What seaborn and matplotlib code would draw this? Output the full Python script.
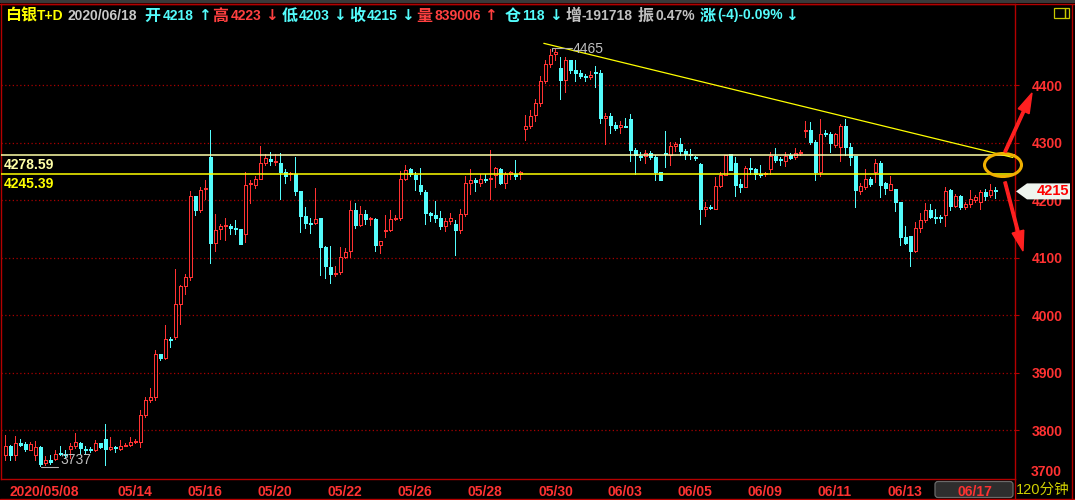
import numpy as np
import pandas as pd
import matplotlib
matplotlib.use("Agg")
import matplotlib.pyplot as plt
import matplotlib.transforms as mtransforms
from matplotlib.patches import Ellipse, Polygon, FancyArrow, FancyBboxPatch, Rectangle
import seaborn as sns

# ---------------- data (120-minute candles, 白银T+D) ----------------
opens = [3757, 3772, 3757, 3778, 3776, 3766, 3757, 3770, 3743, 3747, 3750, 3760, 3759, 3767, 3773, 3777, 3767, 3767, 3766, 3777,
         3784, 3767, 3770, 3767, 3773, 3774, 3779, 3780, 3826, 3853, 3858, 3932, 3925, 3959, 3962, 4020, 4051, 4066, 4207, 4183,
         4219, 4275, 4125, 4149, 4155, 4155, 4151, 4149, 4141, 4227, 4226, 4236, 4264, 4271, 4266, 4264, 4248, 4245, 4246, 4216,
         4172, 4160, 4160, 4169, 4119, 4083, 4071, 4075, 4101, 4112, 4182, 4156, 4175, 4167, 4167, 4122, 4146, 4148, 4167, 4169,
         4236, 4254, 4243, 4226, 4214, 4178, 4174, 4169, 4155, 4163, 4158, 4148, 4175, 4230, 4235, 4229, 4236, 4236, 4243, 4254,
         4230, 4245, 4245, 4245, 4324, 4329, 4347, 4369, 4407, 4436, 4454, 4430, 4409, 4443, 4426, 4421, 4416, 4414, 4423, 4421,
         4343, 4346, 4330, 4327, 4329, 4341, 4287, 4277, 4276, 4281, 4275, 4248, 4282, 4278, 4294, 4297, 4285, 4280, 4275, 4263,
         4184, 4188, 4185, 4225, 4244, 4280, 4265, 4228, 4223, 4256, 4254, 4246, 4245, 4254, 4277, 4271, 4268, 4278, 4275, 4281,
         4320, 4322, 4301, 4249, 4316, 4315, 4296, 4293, 4328, 4293, 4276, 4216, 4222, 4237, 4249, 4265, 4229, 4218, 4220, 4197,
         4135, 4137, 4112, 4151, 4165, 4183, 4171, 4170, 4174, 4217, 4190, 4207, 4187, 4193, 4200, 4197, 4214, 4209, 4218]
highs = [3791, 3774, 3789, 3784, 3780, 3779, 3781, 3773, 3755, 3756, 3765, 3772, 3765, 3777, 3795, 3780, 3772, 3770, 3783, 3777,
         3810, 3788, 3773, 3783, 3778, 3788, 3785, 3834, 3858, 3873, 3939, 3932, 3983, 3961, 4080, 4052, 4071, 4216, 4207, 4223,
         4235, 4322, 4175, 4158, 4168, 4158, 4165, 4149, 4249, 4235, 4242, 4294, 4280, 4283, 4280, 4281, 4254, 4249, 4275, 4216,
         4187, 4169, 4221, 4169, 4120, 4120, 4086, 4118, 4116, 4199, 4195, 4189, 4182, 4171, 4169, 4128, 4174, 4182, 4174, 4250,
         4261, 4256, 4248, 4256, 4217, 4180, 4198, 4181, 4168, 4177, 4165, 4184, 4242, 4254, 4239, 4245, 4246, 4287, 4258, 4256,
         4249, 4251, 4269, 4251, 4348, 4356, 4376, 4416, 4443, 4462, 4465, 4448, 4448, 4443, 4443, 4426, 4419, 4424, 4433, 4426,
         4352, 4352, 4335, 4337, 4342, 4349, 4290, 4283, 4287, 4285, 4278, 4248, 4320, 4301, 4301, 4308, 4289, 4289, 4277, 4265,
         4197, 4192, 4240, 4249, 4279, 4280, 4275, 4236, 4259, 4273, 4256, 4261, 4249, 4284, 4291, 4275, 4284, 4281, 4291, 4287,
         4338, 4335, 4304, 4341, 4322, 4319, 4317, 4332, 4341, 4300, 4276, 4229, 4254, 4240, 4272, 4267, 4232, 4242, 4220, 4197,
         4154, 4137, 4162, 4177, 4194, 4193, 4185, 4174, 4222, 4220, 4210, 4209, 4197, 4217, 4209, 4218, 4220, 4228, 4223]
lows = [3747, 3748, 3747, 3772, 3764, 3765, 3748, 3737, 3740, 3741, 3748, 3756, 3752, 3751, 3768, 3759, 3758, 3761, 3763, 3768,
        3740, 3765, 3762, 3765, 3772, 3772, 3777, 3771, 3822, 3848, 3853, 3922, 3923, 3945, 3959, 3984, 4037, 4061, 4174, 4180,
        4202, 4091, 4112, 4133, 4130, 4141, 4141, 4124, 4127, 4195, 4221, 4236, 4261, 4261, 4261, 4202, 4230, 4235, 4209, 4145,
        4152, 4143, 4158, 4069, 4064, 4056, 4068, 4072, 4100, 4101, 4152, 4155, 4159, 4157, 4112, 4108, 4135, 4146, 4165, 4165,
        4235, 4242, 4217, 4210, 4158, 4163, 4162, 4149, 4146, 4159, 4104, 4142, 4173, 4210, 4216, 4225, 4232, 4202, 4223, 4228,
        4221, 4236, 4236, 4236, 4304, 4325, 4338, 4364, 4403, 4431, 4443, 4376, 4388, 4421, 4407, 4413, 4407, 4410, 4397, 4334,
        4298, 4316, 4321, 4317, 4327, 4267, 4245, 4269, 4264, 4271, 4235, 4235, 4258, 4261, 4286, 4278, 4271, 4271, 4269, 4158,
        4173, 4184, 4184, 4222, 4244, 4252, 4207, 4214, 4222, 4245, 4236, 4240, 4242, 4245, 4266, 4261, 4260, 4271, 4271, 4278,
        4310, 4298, 4235, 4241, 4311, 4284, 4293, 4268, 4278, 4261, 4188, 4211, 4219, 4224, 4232, 4206, 4210, 4217, 4181, 4122,
        4123, 4086, 4110, 4145, 4162, 4168, 4160, 4162, 4154, 4183, 4187, 4184, 4184, 4187, 4197, 4185, 4200, 4206, 4203]
closes = [3772, 3757, 3777, 3774, 3767, 3776, 3770, 3741, 3748, 3745, 3759, 3759, 3757, 3772, 3779, 3769, 3766, 3765, 3777, 3770,
          3767, 3770, 3769, 3773, 3774, 3780, 3780, 3826, 3852, 3858, 3932, 3925, 3958, 3957, 4019, 4051, 4066, 4207, 4183, 4217,
          4221, 4125, 4148, 4155, 4156, 4152, 4149, 4124, 4226, 4229, 4236, 4265, 4273, 4268, 4268, 4249, 4242, 4247, 4216, 4172,
          4160, 4159, 4167, 4119, 4086, 4071, 4073, 4101, 4109, 4182, 4157, 4175, 4167, 4169, 4122, 4128, 4148, 4167, 4169, 4236,
          4253, 4245, 4236, 4216, 4178, 4174, 4168, 4155, 4163, 4169, 4148, 4175, 4230, 4235, 4231, 4236, 4235, 4239, 4256, 4230,
          4245, 4248, 4242, 4248, 4329, 4346, 4368, 4407, 4436, 4452, 4458, 4409, 4443, 4426, 4421, 4416, 4414, 4418, 4421, 4343,
          4346, 4330, 4326, 4330, 4327, 4287, 4278, 4275, 4281, 4275, 4248, 4235, 4280, 4294, 4298, 4286, 4280, 4278, 4273, 4184,
          4188, 4186, 4225, 4243, 4279, 4252, 4226, 4222, 4256, 4254, 4245, 4244, 4247, 4277, 4269, 4269, 4277, 4273, 4281, 4283,
          4322, 4301, 4249, 4315, 4314, 4299, 4315, 4328, 4293, 4275, 4217, 4224, 4237, 4228, 4264, 4226, 4221, 4228, 4197, 4135,
          4126, 4112, 4151, 4165, 4183, 4171, 4169, 4168, 4216, 4190, 4207, 4188, 4193, 4201, 4206, 4214, 4207, 4217, 4215]

y_ticks = [3800, 3900, 4000, 4100, 4200, 4300, 4400]
x_tick_pos = [0.3, 22, 36, 50, 64, 78, 92, 106.2, 120, 134, 148, 162, 176, 190]
x_tick_labels = ["2020/05/08", "05/14", "05/16", "05/20", "05/22", "05/26", "05/28",
                 "05/30", "06/03", "06/05", "06/09", "06/11", "06/13", "06/17"]
x_minor_pos = [3.1, 8.1, 15, 29.1, 43, 57.1, 72.9, 85, 99.1, 108.1, 143.1, 169.1, 183.2, 197.2]
support_levels = [4278.59, 4245.39]
trend_x = [107.7, 201.5]
trend_y = [4472.5, 4274.0]
high_value, high_idx = 4465, 110
low_value, low_idx = 3737, 7

header_items = [
    ("白银", "#ffff00", "cjk"), ("T+D", "#ffff00", "num"),
    ("2020/06/18", "#c8c8c8", "num"),
    ("开", "#54fcfc", "cjk"), ("4218", "#54fcfc", "num"), ("↑", "#54fcfc", "arr"),
    ("高", "#ff4040", "cjk"), ("4223", "#ff4040", "num"), ("↓", "#ff4040", "arr"),
    ("低", "#54fcfc", "cjk"), ("4203", "#54fcfc", "num"), ("↓", "#54fcfc", "arr"),
    ("收", "#54fcfc", "cjk"), ("4215", "#54fcfc", "num"), ("↓", "#54fcfc", "arr"),
    ("量", "#ff4040", "cjk"), ("839006", "#ff4040", "num"), ("↑", "#ff4040", "arr"),
    ("仓", "#54fcfc", "cjk"), ("118", "#54fcfc", "num"), ("↓", "#54fcfc", "arr"),
    ("增", "#c0c0c0", "cjk"), ("-191718", "#c0c0c0", "num"),
    ("振", "#c0c0c0", "cjk"), ("0.47%", "#c0c0c0", "num"),
    ("涨", "#54fcfc", "cjk"), ("(-4)-0.09%", "#54fcfc", "num"), ("↓", "#54fcfc", "arr"),
]
header_x = [5, 37, 67, 144, 162.5, 198, 212.5, 230.5, 265, 281.5, 299, 333, 349.5, 366.7, 401,
            416.7, 434.6, 484.5, 504.5, 522, 549, 565.6, 581.6, 638, 655, 700, 717.4, 785]

# ---------------- style ----------------
sns.set_theme(style="dark", rc={
    "axes.facecolor": "black", "figure.facecolor": "black",
    "axes.grid": False, "axes.edgecolor": "#b40000",
})
plt.rcParams["font.family"] = ["Liberation Sans", "Noto Sans CJK SC", "DejaVu Sans"]

RED = "#ff3232"
CYAN = "#54fcfc"
FRAME = "#b40000"
W, H = 1075, 500
PX = 0.72  # one pixel in points

fig = plt.figure(figsize=(W / 100, H / 100), dpi=100)
fig.patch.set_facecolor("black")


def px_rect(l, t, r, b):
    return [l / W, 1 - b / H, (r - l) / W, (b - t) / H]


ax = fig.add_axes(px_rect(1, 4, 1015, 479))
ax.set_facecolor("black")
ax.set_xlim(-0.86, 201.94)
ax.set_ylim(3714.8, 4540.9)
for s in ax.spines.values():
    s.set_color(FRAME)
    s.set_linewidth(1.0)

df = pd.DataFrame({"o": opens, "h": highs, "l": lows, "c": closes})
df["idx"] = np.arange(len(df))
up = df["c"] > df["o"]
dn = ~up

# grid
for yv in y_ticks:
    ax.axhline(yv, color="#a80000", lw=0.9, ls=(0, (1, 2)), zorder=1)

# wicks
ax.vlines(df.loc[up, "idx"], df.loc[up, "l"], df.loc[up, "h"], colors=RED, lw=PX, zorder=2, antialiased=False)
ax.vlines(df.loc[dn, "idx"], df.loc[dn, "l"], df.loc[dn, "h"], colors=CYAN, lw=PX, zorder=2, antialiased=False)
# bodies: hollow red (up), filled cyan (down)
ax.bar(df.loc[up, "idx"], (df.loc[up, "c"] - df.loc[up, "o"]).clip(lower=1.5), bottom=df.loc[up, "o"],
       width=0.66, facecolor="black", edgecolor=RED, linewidth=PX, zorder=3, antialiased=False)
ax.bar(df.loc[dn, "idx"], (df.loc[dn, "o"] - df.loc[dn, "c"]).clip(lower=1.5), bottom=df.loc[dn, "c"],
       width=0.66, facecolor=CYAN, edgecolor=CYAN, linewidth=PX, zorder=3, antialiased=False)

# support / resistance lines
lvl_colors = ["#ffffa8", "#ffff00"]
btr = mtransforms.blended_transform_factory(ax.transAxes, ax.transData)
for lv, col in zip(support_levels, lvl_colors):
    ax.axhline(lv, color=col, lw=1.1, zorder=4)
    ax.annotate(f"{lv:.2f}", xy=(0, lv), xycoords=btr, xytext=(3, -3.5), textcoords="offset pixels",
                ha="left", va="top", color=col, fontsize=10, fontweight="bold", zorder=5)

# trend line
ax.plot(trend_x, trend_y, color="#ffff00", lw=0.9, zorder=4, clip_on=False)

# high / low markers
ax.plot([high_idx - 0.7, high_idx - 0.7, high_idx + 3.3], [high_value - 5, high_value - 1, high_value - 1],
        color="#b0b0b0", lw=0.8, zorder=4)
ax.text(high_idx + 3.5, high_value - 2, f"{high_value}", color="#c0c0c0", fontsize=10,
        ha="left", va="center", zorder=5)
ax.plot([low_idx + 0.1, low_idx + 3.5], [low_value - 2, low_value - 2], color="#b0b0b0", lw=0.8, zorder=4)
ax.text(low_idx + 4.1, low_value + 4, f"{low_value}", color="#c0c0c0", fontsize=10,
        ha="left", va="baseline", zorder=5)

# axes ticks
ax.yaxis.tick_right()
ax.set_yticks(y_ticks)
ax.set_yticklabels([str(v) for v in y_ticks])
ax.tick_params(axis="y", colors=RED, labelsize=10, length=3, width=0.8, pad=9, direction="out")
for lab in ax.get_yticklabels():
    lab.set_fontweight("bold")
ax.tick_params(axis="y", color=FRAME)

ax.set_xticks(x_tick_pos)
ax.set_xticklabels(x_tick_labels)
ax.set_xticks(x_minor_pos, minor=True)
ax.tick_params(axis="x", which="both", colors=RED, labelsize=10, length=4, width=0.8, pad=0, direction="out")
ax.tick_params(axis="x", which="both", color=FRAME)
off = mtransforms.ScaledTranslation(2.5 / 100, 0, fig.dpi_scale_trans)
for lab in ax.get_xticklabels():
    lab.set_horizontalalignment("left")
    lab.set_fontweight("bold")
    lab.set_transform(lab.get_transform() + off)

# ---------------- overlay in pixel coordinates ----------------
ov = fig.add_axes([0, 0, 1, 1], facecolor="none")
ov.set_xlim(0, W)
ov.set_ylim(H, 0)
ov.axis("off")

# highlight box under last date label (behind labels)
hb = FancyBboxPatch((935, 481.5), 78, 16, boxstyle="round,pad=0,rounding_size=3",
                    facecolor="#2e2e2e", edgecolor="#6a6a6a", lw=0.9,
                    transform=ov.transData, clip_on=False, zorder=0.5)
ax.add_patch(hb)

# frame pieces
ov.add_patch(Rectangle((0, 0), W, 3.2, facecolor="#3a3a3a", edgecolor="none"))
ov.plot([0, W], [4, 4], color=FRAME, lw=1.0)
ov.plot([0, W], [499, 499], color=FRAME, lw=1.0)
ov.plot([1071.5, 1071.5], [4, 499], color=FRAME, lw=1.0)
ov.plot([1015, 1015], [479, 499], color=FRAME, lw=1.0)
ov.add_patch(Rectangle((1054, 7.5), 11, 10, facecolor="none", edgecolor="#c8c800", lw=0.9))
ov.add_patch(Rectangle((1065, 7.5), 4, 10, facecolor="none", edgecolor="#c8c800", lw=0.9))

# header
for (txt, col, kind), x in zip(header_items, header_x):
    if kind == "cjk":
        ov.text(x, 15.5, txt, color=col, fontsize=11.5, family="Noto Sans CJK SC", fontweight="bold",
                ha="left", va="center")
    elif kind == "arr":
        ov.text(x, 15.5, txt, color=col, fontsize=11, family="DejaVu Sans", fontweight="bold",
                ha="left", va="center")
    else:
        ov.text(x, 15.5, txt, color=col, fontsize=10, family="Liberation Sans", fontweight="bold",
                ha="left", va="center")

# 3700 label (clamped at bottom) and period label
ov.text(1031, 472, "3700", color=RED, fontsize=10, fontweight="bold", ha="left", va="center")
ov.text(1016, 490, "120分钟", color="#d0d000", fontsize=10.5,
        family=["Liberation Sans", "Noto Sans CJK SC"], ha="left", va="center")

# last price tag
last_close = closes[-1]
y_last = H - ax.transData.transform((0, last_close))[1]
ov.add_patch(Polygon([(1016, y_last), (1027, y_last - 8), (1070, y_last - 8), (1070, y_last + 8), (1027, y_last + 8)],
                     closed=True, facecolor="#eef4ee", edgecolor="none", zorder=6))
ov.text(1069, y_last, f"{last_close}", color="#ff0000", fontsize=10.5, fontweight="bold",
        ha="right", va="center", zorder=7)

# ellipse and arrows
ov.add_patch(Ellipse((1003, 165), 37, 23, facecolor="none", edgecolor="#f0b000", lw=2.2, zorder=6))
ov.add_patch(FancyArrow(1005, 152, 1032 - 1005, 93 - 152, width=2.5, head_width=12, head_length=20,
                        length_includes_head=True, color="#ff2020", zorder=6))
ov.add_patch(FancyArrow(1005, 182, 1023 - 1005, 251 - 182, width=2.5, head_width=12, head_length=20,
                        length_includes_head=True, color="#ff2020", zorder=6))

fig.savefig("out.png", dpi=100, facecolor="black")
